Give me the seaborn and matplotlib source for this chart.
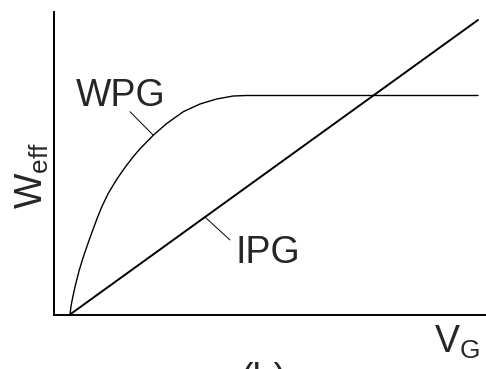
import numpy as np
import matplotlib
matplotlib.use("Agg")
import matplotlib.pyplot as plt
import seaborn as sns

# W_eff vs V_G sketch, arbitrary units (0-10 on both axes)

# WPG curve
wpg_x = [0.370, 0.400, 0.447, 0.502, 0.579, 0.678, 0.794, 0.873, 0.988,
         1.104, 1.257, 1.451, 1.644, 1.836, 1.991, 2.299, 2.609, 2.993,
         3.380, 3.766, 4.150, 4.461, 5.000, 9.815]
wpg_y = [0.000, 0.331, 0.661, 1.008, 1.438, 1.901, 2.380, 2.694, 3.140,
         3.554, 4.007, 4.466, 4.863, 5.220, 5.478, 5.927, 6.314, 6.704,
         6.959, 7.124, 7.223, 7.240, 7.240, 7.240]

# IPG straight line
ipg_x = [0.370, 9.815]
ipg_y = [0.000, 9.736]

labels = ["WPG", "IPG"]

sns.set_style("white")
plt.rcParams["font.family"] = ["Liberation Sans", "DejaVu Sans"]
plt.rcParams["mathtext.fontset"] = "custom"
plt.rcParams["mathtext.rm"] = "Liberation Sans"
plt.rcParams["mathtext.it"] = "Liberation Sans"

fig = plt.figure(figsize=(4.86, 3.69), dpi=100)
ax = fig.add_axes([54 / 486, 1 - 314.5 / 369, 1 - 54 / 486, 302.5 / 369])

sns.lineplot(x=wpg_x, y=wpg_y, ax=ax, color="black", lw=1.0)
sns.lineplot(x=ipg_x, y=ipg_y, ax=ax, color="black", lw=1.4)

ax.set_xlim(0, 10)
ax.set_ylim(0, 10)
ax.set_xticks([])
ax.set_yticks([])
for side in ["top", "right"]:
    ax.spines[side].set_visible(False)
for side in ["left", "bottom"]:
    ax.spines[side].set_linewidth(1.4)
    ax.spines[side].set_color("black")

# leader lines from labels to the curves
ax.annotate("", xy=(wpg_x[15], wpg_y[15]), xytext=(1.759, 6.704),
            arrowprops=dict(arrowstyle="-", color="black", lw=0.7,
                            shrinkA=0, shrinkB=0))
ipg_pt_x = 3.495
ipg_pt_y = np.interp(ipg_pt_x, ipg_x, ipg_y)
ax.annotate("", xy=(ipg_pt_x, ipg_pt_y), xytext=(4.074, 2.463),
            arrowprops=dict(arrowstyle="-", color="black", lw=0.7,
                            shrinkA=0, shrinkB=0))

ax.text(0.50, 6.893, labels[0], fontsize=27, ha="left", va="baseline")
ax.text(4.20, 1.702, labels[1], fontsize=27, ha="left", va="baseline")

# axis labels
fig.text(32.5 / 486, 1 - 175.5 / 369, r"$\mathregular{W_{eff}}$",
         fontsize=27, rotation=90, ha="center", va="center")
fig.text(434 / 486, 1 - 353 / 369, r"$\mathregular{V_G}$",
         fontsize=27, ha="left", va="baseline")

# panel tag, cut off at the bottom edge like in the source figure
fig.text(264 / 486, 1 - 362 / 369, "(b)", fontsize=27, ha="center", va="top")

fig.savefig("out.png", dpi=100)
